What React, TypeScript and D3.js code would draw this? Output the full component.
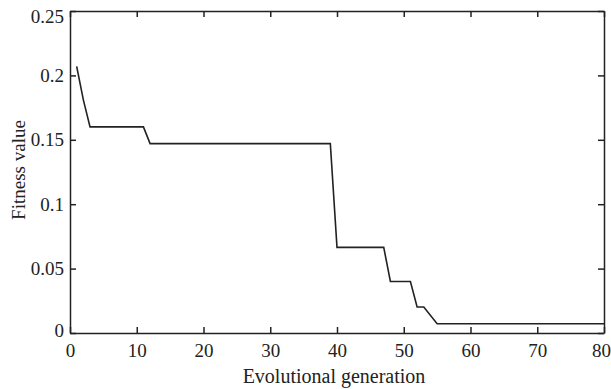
import { useEffect, useRef } from 'react';
import * as d3 from 'd3';

// breakpoints of the best-fitness curve
const generations = [1, 2, 3, 11, 12, 39, 40, 47, 48, 51, 52, 53, 55, 80];
const fitness = [0.207, 0.181, 0.16, 0.16, 0.147, 0.147, 0.0665, 0.0665, 0.04, 0.04, 0.0202, 0.0202, 0.0072, 0.0072];

const xTicks = [0, 10, 20, 30, 40, 50, 60, 70, 80];
const yTicks = [0, 0.05, 0.1, 0.15, 0.2, 0.25];
const yTickLabels = ['0', '0.05', '0.1', '0.15', '0.2', '0.25'];

const W = 611;
const H = 389;
const margin = { top: 11, right: 7, bottom: 56, left: 70 };

export default function App() {
    const svgRef = useRef<SVGSVGElement>(null);

    useEffect(() => {
        const root = d3.select(svgRef.current);
        root.selectAll('*').remove();

        const innerW = W - margin.left - margin.right;
        const innerH = H - margin.top - margin.bottom;
        const font = '"Liberation Serif", "Times New Roman", serif';
        const ink = '#222';

        const svg = root.append('g')
            .attr('transform', `translate(${margin.left},${margin.top})`);

        const x = d3.scaleLinear().domain([0, 80]).range([0, innerW]);
        const y = d3.scaleLinear().domain([0, 0.25]).range([innerH, 0]);

        // bottom axis, ticks pointing in
        const bottom = svg.append('g')
            .attr('transform', `translate(0,${innerH})`)
            .call(d3.axisBottom(x).tickValues(xTicks).tickSizeInner(-6).tickSizeOuter(0).tickPadding(11).tickFormat(d3.format('d')));

        const left = svg.append('g')
            .call(d3.axisLeft(y).tickValues(yTicks).tickSizeInner(-6).tickSizeOuter(0).tickPadding(6)
                .tickFormat((d, i) => yTickLabels[i]));

        // top and right mirror ticks, no labels
        const top = svg.append('g')
            .call(d3.axisTop(x).tickValues(xTicks).tickSizeInner(-6).tickSizeOuter(0).tickFormat(() => ''));
        const right = svg.append('g')
            .attr('transform', `translate(${innerW},0)`)
            .call(d3.axisRight(y).tickValues(yTicks).tickSizeInner(-6).tickSizeOuter(0).tickFormat(() => ''));

        [bottom, left, top, right].forEach(g => {
            g.selectAll('path, line').attr('stroke', ink).attr('stroke-width', 1.5);
            g.selectAll('text')
                .attr('fill', ink)
                .style('font-family', font)
                .style('font-size', '19px');
        });

        // keep the end labels inside the figure like the original export
        left.selectAll<SVGTextElement, number>('text')
            .attr('dy', d => d === 0.25 ? '0.6em' : d === 0 ? '0.18em' : '0.32em');
        bottom.selectAll<SVGTextElement, number>('text')
            .attr('dx', d => d === 80 ? -3 : 0);

        // line
        const pts = generations.map((g, i) => [g, fitness[i]] as [number, number]);
        const line = d3.line<[number, number]>()
            .x(d => x(d[0]))
            .y(d => y(d[1]));

        svg.append('path')
            .datum(pts)
            .attr('fill', 'none')
            .attr('stroke', ink)
            .attr('stroke-width', 1.6)
            .attr('stroke-linejoin', 'miter')
            .attr('d', line);

        // axis labels
        svg.append('text')
            .attr('x', innerW / 2 - 3)
            .attr('y', innerH + 50)
            .attr('text-anchor', 'middle')
            .attr('fill', ink)
            .style('font-family', font)
            .style('font-size', '20px')
            .text('Evolutional generation');

        svg.append('text')
            .attr('transform', `translate(${-margin.left + 25},${innerH / 2 - 2}) rotate(-90)`)
            .attr('text-anchor', 'middle')
            .attr('fill', ink)
            .style('font-family', font)
            .style('font-size', '19px')
            .text('Fitness value');
    }, []);

    return (
        <div style={{ position: 'absolute', left: 0, top: 0, width: W, height: H, background: '#fff' }}>
            <svg ref={svgRef} width={W} height={H} style={{ display: 'block' }}></svg>
        </div>
    );
}
